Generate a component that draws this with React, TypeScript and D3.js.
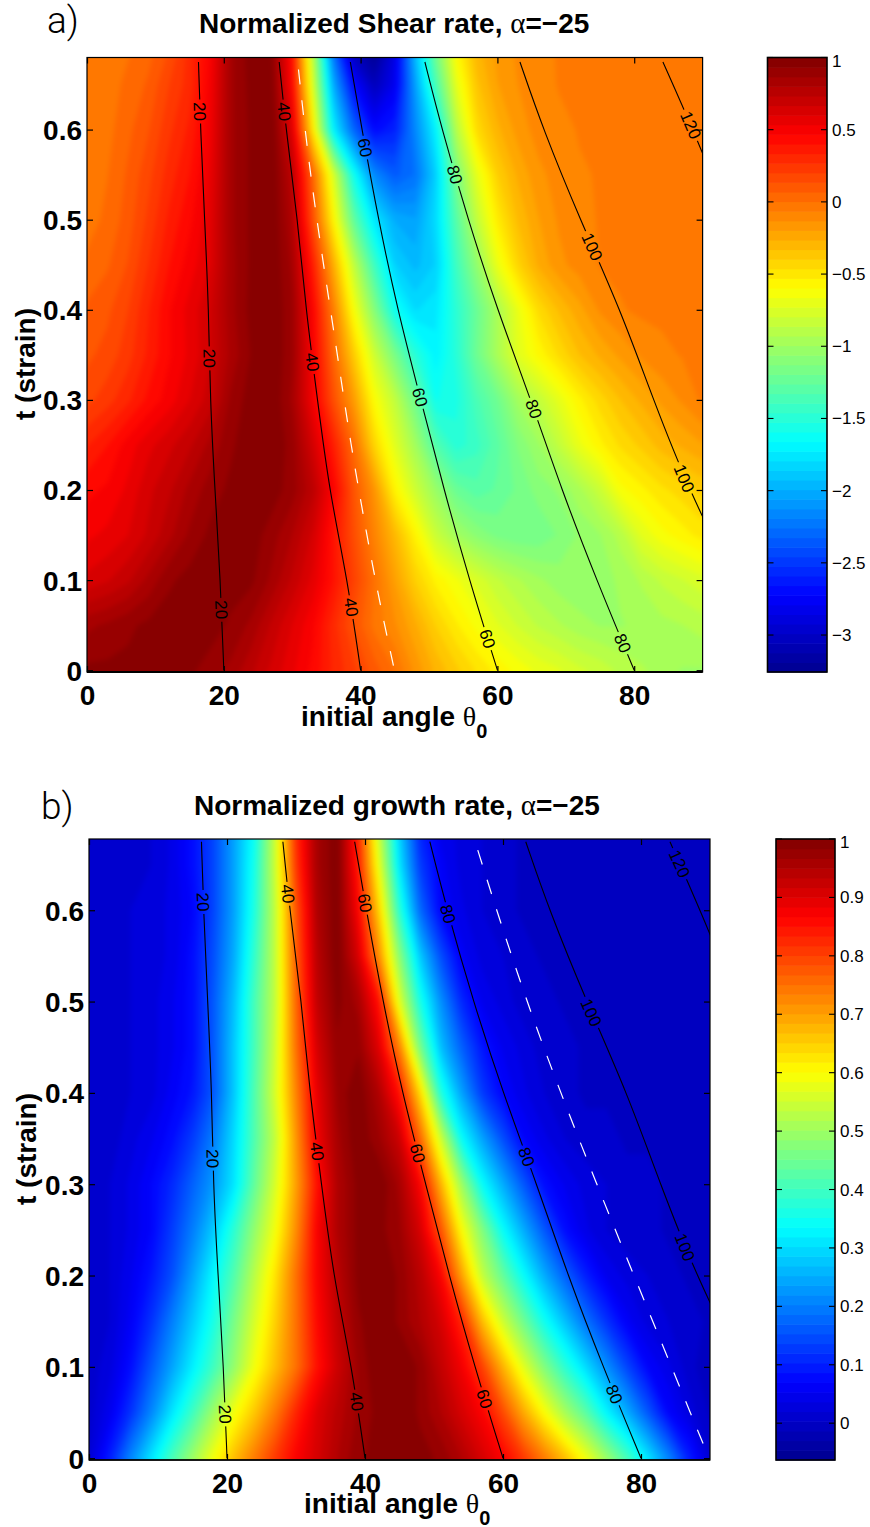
import { useRef, useEffect } from 'react';
import * as d3 from 'd3';

// grid the two fields were read on
const THETA_GRID = d3.range(0, 91, 3);
const T_GRID = [0, 0.05, 0.1, 0.15, 0.2, 0.25, 0.3, 0.35, 0.4, 0.45, 0.5, 0.55, 0.6, 0.65, 0.68];

// normalized shear rate x100, one row per T_GRID value, one column per THETA_GRID value
const SHEAR_RATE = [
  [95, 95, 95, 95, 95, 95, 90, 85, 75, 65, 55, 45, 32, 22, 10, 0, -15, -28, -38, -47, -55, -62, -68, -72, -78, -82, -88, -92, -95, -100, -100],
  [85, 88, 92, 95, 97, 97, 97, 92, 85, 72, 60, 48, 30, 13, -2, -12, -25, -40, -52, -62, -72, -80, -87, -92, -97, -100, -100, -98, -95, -93, -90],
  [62, 66, 72, 82, 92, 96, 97, 97, 95, 85, 72, 58, 40, 20, 0, -20, -40, -55, -65, -75, -85, -92, -98, -103, -105, -103, -98, -92, -85, -80, -75],
  [52, 55, 60, 68, 78, 88, 95, 97, 97, 90, 80, 65, 40, 15, -8, -30, -55, -82, -98, -108, -115, -118, -118, -112, -105, -100, -90, -72, -62, -56, -50],
  [45, 48, 55, 65, 72, 82, 90, 95, 98, 97, 90, 75, 48, 12, -15, -55, -80, -102, -122, -130, -125, -118, -110, -105, -95, -82, -62, -55, -48, -43, -38],
  [33, 40, 50, 58, 65, 72, 82, 92, 98, 100, 90, 65, 35, 2, -42, -72, -98, -132, -150, -142, -128, -112, -100, -85, -68, -55, -45, -38, -30, -25, -20],
  [18, 24, 32, 42, 50, 60, 70, 88, 97, 100, 85, 52, 15, -18, -60, -85, -120, -160, -155, -135, -120, -98, -85, -70, -55, -43, -33, -25, -18, -12, -5],
  [12, 16, 24, 35, 46, 55, 66, 82, 94, 100, 88, 50, 5, -38, -80, -115, -150, -170, -150, -120, -95, -72, -58, -45, -33, -25, -18, -12, -8, -6, -5],
  [8, 12, 20, 33, 46, 56, 66, 84, 96, 100, 88, 47, -5, -62, -110, -160, -180, -175, -148, -122, -95, -68, -45, -32, -22, -12, -7, -5, -5, -5, -5],
  [2, 6, 14, 27, 40, 50, 60, 84, 95, 100, 85, 35, -25, -85, -140, -185, -195, -185, -140, -105, -68, -42, -25, -15, -10, -6, -5, -5, -5, -5, -5],
  [-3, 2, 10, 22, 35, 45, 58, 85, 95, 100, 80, 15, -55, -125, -175, -200, -205, -180, -130, -85, -52, -32, -20, -12, -8, -6, -5, -5, -5, -5, -5],
  [-5, 0, 8, 18, 30, 40, 55, 85, 95, 100, 75, 5, -75, -160, -215, -235, -225, -185, -115, -70, -40, -25, -15, -10, -7, -6, -6, -6, -6, -6, -6],
  [-5, -2, 5, 13, 25, 35, 52, 85, 95, 100, 60, -50, -170, -230, -270, -260, -215, -170, -90, -45, -28, -17, -10, -8, -6, -6, -6, -6, -6, -6, -6],
  [-5, -3, 2, 8, 20, 30, 50, 85, 96, 98, 45, -75, -200, -270, -305, -280, -205, -135, -70, -35, -20, -13, -9, -6, -6, -6, -6, -6, -6, -6, -6],
  [-5, -4, 0, 5, 15, 30, 48, 85, 97, 96, 42, -85, -220, -300, -322, -285, -195, -120, -60, -30, -18, -12, -8, -6, -6, -6, -6, -6, -6, -6, -6],
];

// normalized growth rate x100, same grid
const GROWTH_RATE = [
  [2, 10, 21, 31, 41, 50, 59, 67, 74, 81, 87, 91, 95, 98, 99, 100, 99, 98, 95, 91, 87, 81, 74, 67, 59, 50, 41, 31, 21, 10, 2],
  [1, 5, 12, 21, 31, 40, 50, 59, 66, 74, 83, 90, 94, 97, 99, 100, 98, 95, 91, 87, 79, 69, 60, 51, 43, 33, 25, 16, 7, 3, 0],
  [1, 3, 8, 16, 24, 32, 40, 49, 59, 67, 75, 85, 92, 97, 100, 100, 98, 93, 88, 80, 68, 57, 47, 38, 30, 22, 14, 7, 4, 1, -1],
  [1, 2, 6, 12, 20, 28, 36, 46, 56, 65, 75, 86, 93, 98, 100, 98, 95, 91, 83, 67, 55, 45, 35, 27, 19, 12, 6, 3, 2, 1, 0],
  [1, 2, 5, 9, 15, 24, 33, 42, 53, 63, 75, 87, 94, 99, 100, 98, 94, 87, 70, 54, 44, 34, 25, 17, 10, 5, 3, 2, 1, 0, -1],
  [1, 2, 4, 7, 13, 20, 28, 38, 49, 59, 72, 87, 95, 99, 99, 97, 91, 78, 60, 47, 34, 25, 16, 8, 4, 2, 1, 1, 0, 0, 0],
  [1, 2, 4, 7, 11, 17, 23, 31, 44, 56, 70, 85, 95, 99, 100, 96, 87, 68, 50, 34, 25, 16, 8, 5, 3, 2, 1, 1, 0, 0, 0],
  [1, 1, 3, 5, 8, 13, 20, 30, 42, 54, 71, 88, 96, 100, 97, 92, 76, 55, 34, 24, 15, 7, 4, 2, 1, 1, 0, 0, 0, 0, 0],
  [1, 1, 2, 3, 6, 9, 16, 28, 42, 56, 73, 89, 97, 100, 95, 85, 64, 37, 24, 13, 7, 4, 2, 1, 0, 0, 0, 0, 0, 0, 0],
  [1, 1, 2, 3, 5, 8, 16, 28, 41, 55, 75, 91, 98, 98, 90, 73, 46, 27, 17, 9, 5, 3, 1, 1, 0, 0, 0, 0, 0, 0, 0],
  [1, 1, 2, 3, 5, 8, 16, 27, 41, 54, 76, 93, 99, 96, 85, 57, 36, 22, 11, 5, 3, 1, 1, 0, 0, 0, 0, 0, 0, 0, 0],
  [1, 1, 2, 3, 4, 8, 15, 25, 39, 54, 77, 94, 100, 91, 72, 48, 28, 15, 6, 3, 2, 1, 0, 0, 0, 0, 0, 0, 0, 0, 0],
  [1, 1, 2, 3, 4, 7, 14, 24, 37, 54, 78, 95, 100, 87, 65, 38, 18, 7, 4, 2, 1, 0, 0, 0, 0, 0, 0, 0, 0, 0, 0],
  [1, 1, 2, 2, 4, 8, 14, 24, 36, 55, 81, 96, 100, 84, 58, 31, 13, 6, 3, 2, 1, 0, 0, 0, 0, 0, 0, 0, 0, 0, 0],
  [1, 1, 2, 2, 4, 8, 14, 24, 35, 55, 82, 96, 100, 83, 55, 29, 11, 5, 3, 2, 1, 0, 0, 0, 0, 0, 0, 0, 0, 0, 0],
];

// contours of the current angle, drawn over both fields
const CURVE_T = [0, 0.1, 0.2, 0.3, 0.4, 0.5, 0.6, 0.675];
const CONTOUR_20 = [20, 19.5, 18.7, 18, 17.8, 17.2, 16.6, 16.3];
const CONTOUR_40 = [40, 38.1, 35.4, 33.7, 32, 30.8, 29.1, 28.1];
const CONTOUR_60 = [60, 55.9, 52.2, 48.8, 45.4, 42.6, 40.2, 38.5];
const CONTOUR_80 = [80, 74.5, 69.4, 64.9, 60, 55.7, 51.9, 49.4];
const CONTOUR_100_T = [0.1, 0.2, 0.3, 0.4, 0.5, 0.6, 0.675];
const CONTOUR_100 = [94.5, 88, 82.8, 78, 72.1, 66.7, 63.3];
const CONTOUR_120_T = [0.5, 0.6, 0.675];
const CONTOUR_120 = [94, 88.6, 84.2];

const DASHED_A_T = [0.005, 0.075, 0.15, 0.253, 0.356, 0.463, 0.57, 0.675];
const DASHED_A = [44.8, 42.8, 40.9, 38.5, 36.5, 34.3, 32.3, 30.8];
const DASHED_B_T = [0.016, 0.181, 0.342, 0.506, 0.674];
const DASHED_B = [89, 80, 71.3, 63, 56];

// t values of the inline contour labels
const LABELS_A = { 20: [0.62, 0.346, 0.067], 40: [0.62, 0.342, 0.07], 60: [0.58, 0.303, 0.035], 80: [0.55, 0.29, 0.03], 100: [0.47, 0.213], 120: [0.605] };
const LABELS_B = { 20: [0.609, 0.328, 0.048], 40: [0.618, 0.336, 0.062], 60: [0.608, 0.334, 0.065], 80: [0.596, 0.33, 0.07], 100: [0.488, 0.231], 120: [0.651] };

const X_TICKS = [0, 20, 40, 60, 80];
const Y_TICKS = [0, 0.1, 0.2, 0.3, 0.4, 0.5, 0.6];
const CBAR_TICKS_A = [1, 0.5, 0, -0.5, -1, -1.5, -2, -2.5, -3];
const CBAR_TICKS_B = [1, 0.9, 0.8, 0.7, 0.6, 0.5, 0.4, 0.3, 0.2, 0.1, 0];

const SANS = 'Helvetica, Arial, "Liberation Sans", sans-serif';

const jet = d3.scaleLinear<string>()
  .domain([0, 0.125, 0.375, 0.625, 0.875, 1])
  .range(['#00008f', '#0000ff', '#00ffff', '#ffff00', '#ff0000', '#800000'])
  .clamp(true);

function drawPanel(svg, p) {
  const x = d3.scaleLinear().domain([0, 90]).range([p.left, p.right]);
  const y = d3.scaleLinear().domain(p.tRange).range([p.bottom, p.top]);
  const g = svg.append('g');

  g.append('clipPath').attr('id', `clip-${p.id}`)
    .append('rect')
    .attr('x', p.left).attr('y', p.top)
    .attr('width', p.right - p.left).attr('height', p.bottom - p.top);
  g.append('filter').attr('id', `soft-${p.id}`)
    .attr('filterUnits', 'userSpaceOnUse')
    .attr('x', p.left - 40).attr('y', p.top - 40)
    .attr('width', p.right - p.left + 80).attr('height', p.bottom - p.top + 80)
    .attr('color-interpolation-filters', 'sRGB')
    .append('feGaussianBlur').attr('stdDeviation', 2.5);

  // the field, as stacked filled contours of the 64 colour steps
  const [vMin, vMax] = p.vRange;
  const step = (vMax - vMin) / 64;
  const levels = d3.range(64).map((i) => vMin + i * step);
  const colorOf = (i) => jet((i + 0.5) / 64);

  const values = p.field.flat().map((v) => v / 100);
  const contours = d3.contours()
    .size([THETA_GRID.length, T_GRID.length])
    .thresholds(levels)(values);

  const rowToT = d3.scaleLinear().domain(T_GRID.map((_, j) => j + 0.5)).range(T_GRID);
  const project = d3.geoTransform({
    point(px, py) {
      this.stream.point(x((px - 0.5) * 3), y(rowToT(py)));
    },
  });
  const path = d3.geoPath(project);

  const field = g.append('g').attr('clip-path', `url(#clip-${p.id})`)
    .append('g').attr('filter', `url(#soft-${p.id})`);
  field.append('rect')
    .attr('x', p.left - 10).attr('y', p.top - 10)
    .attr('width', p.right - p.left + 20).attr('height', p.bottom - p.top + 20)
    .attr('fill', colorOf(0));
  contours.forEach((c, i) => {
    field.append('path').attr('d', path(c)).attr('fill', colorOf(i));
  });

  // contour lines, broken where a label sits
  const curves = {
    20: [CURVE_T, CONTOUR_20],
    40: [CURVE_T, CONTOUR_40],
    60: [CURVE_T, CONTOUR_60],
    80: [CURVE_T, CONTOUR_80],
    100: [CONTOUR_100_T, CONTOUR_100],
    120: [CONTOUR_120_T, CONTOUR_120],
  };
  const line = d3.line()
    .x((d) => x(d[1]))
    .y((d) => y(d[0]))
    .curve(d3.curveBasis);

  const mask = g.append('mask').attr('id', `mask-${p.id}`).attr('maskUnits', 'userSpaceOnUse')
    .attr('x', 0).attr('y', 0).attr('width', 870).attr('height', 1527);
  mask.append('rect').attr('width', 870).attr('height', 1527).attr('fill', '#fff');

  const labels = [];
  Object.entries(p.labels).forEach(([level, ts]) => {
    const [ct, cv] = curves[level];
    const at = d3.scaleLinear().domain(ct).range(cv);
    ts.forEach((t) => {
      const dx = x(at(t - 0.02)) - x(at(t + 0.02));
      const dy = y(t - 0.02) - y(t + 0.02);
      const angle = (Math.atan2(dy, dx) * 180) / Math.PI;
      labels.push({ level, px: x(at(t)), py: y(t), angle });
    });
  });
  labels.forEach((l) => {
    const w = l.level.length > 2 ? 34 : 24;
    mask.append('rect')
      .attr('x', -w / 2).attr('y', -8).attr('width', w).attr('height', 16)
      .attr('transform', `translate(${l.px},${l.py}) rotate(${l.angle})`)
      .attr('fill', '#000');
  });

  const lineGroup = g.append('g').attr('clip-path', `url(#clip-${p.id})`).append('g').attr('mask', `url(#mask-${p.id})`);
  Object.values(curves).forEach(([ct, cv]) => {
    lineGroup.append('path')
      .attr('d', line(ct.map((t, i) => [t, cv[i]])))
      .attr('fill', 'none').attr('stroke', '#000').attr('stroke-width', 1.1);
  });
  g.append('g').attr('clip-path', `url(#clip-${p.id})`).append('path')
    .attr('d', line(p.dashedT.map((t, i) => [t, p.dashed[i]])))
    .attr('fill', 'none').attr('stroke', '#fff').attr('stroke-width', 1.2)
    .attr('stroke-dasharray', '15 16');

  labels.forEach((l) => {
    g.append('text')
      .attr('transform', `translate(${l.px},${l.py}) rotate(${l.angle})`)
      .attr('text-anchor', 'middle').attr('dy', '0.36em')
      .attr('font-family', SANS).attr('font-size', 17)
      .text(l.level);
  });

  // axes
  const styleAxis = (a, attrs) => {
    a.select('.domain').remove();
    a.selectAll('.tick line').attr('stroke', '#000').attr('stroke-width', 1.2);
    a.selectAll('text')
      .attr('font-family', SANS).attr('font-size', 28).attr('font-weight', 700)
      .attr('fill', '#000').attr('stroke', 'none');
    attrs(a.selectAll('text'));
  };
  g.append('g').attr('transform', `translate(0,${p.bottom})`)
    .call(d3.axisBottom(x).tickValues(X_TICKS).tickFormat(d3.format('d')).tickSizeInner(-6).tickSizeOuter(0))
    .call((a) => styleAxis(a, (t) => t.attr('y', 33).attr('dy', 0)));
  g.append('g').attr('transform', `translate(0,${p.top})`)
    .call(d3.axisTop(x).tickValues(X_TICKS).tickFormat(() => '').tickSizeInner(-6).tickSizeOuter(0))
    .call((a) => styleAxis(a, (t) => t));
  g.append('g').attr('transform', `translate(${p.left},0)`)
    .call(d3.axisLeft(y).tickValues(Y_TICKS).tickFormat((d) => (d === 0 ? '0' : d3.format('.1f')(d))).tickSizeInner(-6).tickSizeOuter(0))
    .call((a) => styleAxis(a, (t) => t.attr('x', -5).attr('dy', 10)));
  g.append('g').attr('transform', `translate(${p.right},0)`)
    .call(d3.axisRight(y).tickValues(Y_TICKS).tickFormat(() => '').tickSizeInner(-6).tickSizeOuter(0))
    .call((a) => styleAxis(a, (t) => t));

  g.append('rect')
    .attr('x', p.left).attr('y', p.top)
    .attr('width', p.right - p.left).attr('height', p.bottom - p.top)
    .attr('fill', 'none').attr('stroke', '#000').attr('stroke-width', 1.2);
  g.append('line')
    .attr('x1', p.left).attr('x2', p.right).attr('y1', p.bottom).attr('y2', p.bottom)
    .attr('stroke', '#000').attr('stroke-width', p.bottomWidth);

  // titles and axis labels
  g.append('text').attr('x', p.panelX).attr('y', p.panelY)
    .attr('font-family', 'Roboto, sans-serif').attr('font-weight', 300).attr('font-size', 37)
    .text(p.panel);

  const title = g.append('text').attr('x', p.titleX).attr('y', p.titleY)
    .attr('font-family', SANS).attr('font-size', 28).attr('font-weight', 700);
  title.append('tspan').text(`${p.title}, `);
  title.append('tspan').attr('font-family', '"Liberation Serif", serif').attr('font-weight', 400).attr('font-size', 29).text('α');
  title.append('tspan').text('=−25');

  const xLabel = g.append('text').attr('x', p.xLabelX).attr('y', p.xLabelY)
    .attr('font-family', SANS).attr('font-size', 28).attr('font-weight', 700);
  xLabel.append('tspan').text('initial angle ');
  xLabel.append('tspan').attr('font-family', '"Liberation Serif", serif').attr('font-weight', 400).text('θ');
  xLabel.append('tspan').attr('font-size', 20).attr('dy', 12).text('0');

  g.append('text')
    .attr('transform', `translate(${p.yLabelX},${p.yLabelY}) rotate(-90)`)
    .attr('font-family', SANS).attr('font-size', 28).attr('font-weight', 700)
    .text('t (strain)');

  // colour bar
  const cb = d3.scaleLinear().domain(p.vRange).range([p.bottom, p.top]);
  levels.forEach((v, i) => {
    g.append('rect')
      .attr('x', p.cbLeft).attr('width', p.cbRight - p.cbLeft)
      .attr('y', cb(v + step)).attr('height', cb(v) - cb(v + step) + 0.6)
      .attr('fill', colorOf(i));
  });
  g.append('rect')
    .attr('x', p.cbLeft).attr('y', p.top)
    .attr('width', p.cbRight - p.cbLeft).attr('height', p.bottom - p.top)
    .attr('fill', 'none').attr('stroke', '#000').attr('stroke-width', 1.6);
  p.cbTicks.forEach((v) => {
    const ty = cb(v);
    [[p.cbLeft, p.cbLeft + 6], [p.cbRight - 6, p.cbRight]].forEach(([a, b]) => {
      g.append('line').attr('x1', a).attr('x2', b).attr('y1', ty).attr('y2', ty)
        .attr('stroke', '#000').attr('stroke-width', 1.1);
    });
    g.append('text')
      .attr('x', p.cbRight + 5).attr('y', Math.max(ty, p.top + 3) + 6)
      .attr('font-family', SANS).attr('font-size', 17)
      .text(d3.format('')(v).replace('-', '−'));
  });
}

const PANEL_A = {
  id: 'a', panel: 'a)', panelX: 47, panelY: 33,
  title: 'Normalized Shear rate', titleX: 199, titleY: 33,
  field: SHEAR_RATE, vRange: [-3.256, 1], tRange: [-0.002, 0.68],
  dashed: DASHED_A, dashedT: DASHED_A_T, labels: LABELS_A, cbTicks: CBAR_TICKS_A,
  left: 87, right: 702.6, top: 57.5, bottom: 672, bottomWidth: 2,
  xLabelX: 301, xLabelY: 726, yLabelX: 35, yLabelY: 420,
  cbLeft: 767.5, cbRight: 827,
};

const PANEL_B = {
  id: 'b', panel: 'b)', panelX: 41, panelY: 819,
  title: 'Normalized growth rate', titleX: 194, titleY: 815,
  field: GROWTH_RATE, vRange: [-0.063, 1], tRange: [-0.002, 0.678],
  dashed: DASHED_B, dashedT: DASHED_B_T, labels: LABELS_B, cbTicks: CBAR_TICKS_B,
  left: 89, right: 710, top: 839, bottom: 1460, bottomWidth: 1.4,
  xLabelX: 304, xLabelY: 1513, yLabelX: 36, yLabelY: 1205,
  cbLeft: 776, cbRight: 835,
};

export default function App() {
  const svgRef = useRef<SVGSVGElement>(null);

  useEffect(() => {
    const svg = d3.select(svgRef.current);
    svg.selectAll('*').remove();
    drawPanel(svg, PANEL_A);
    drawPanel(svg, PANEL_B);
  }, []);

  return (
    <svg
      ref={svgRef}
      width={870}
      height={1527}
      style={{ position: 'absolute', left: 0, top: 0, background: '#fff' }}
    />
  );
}
